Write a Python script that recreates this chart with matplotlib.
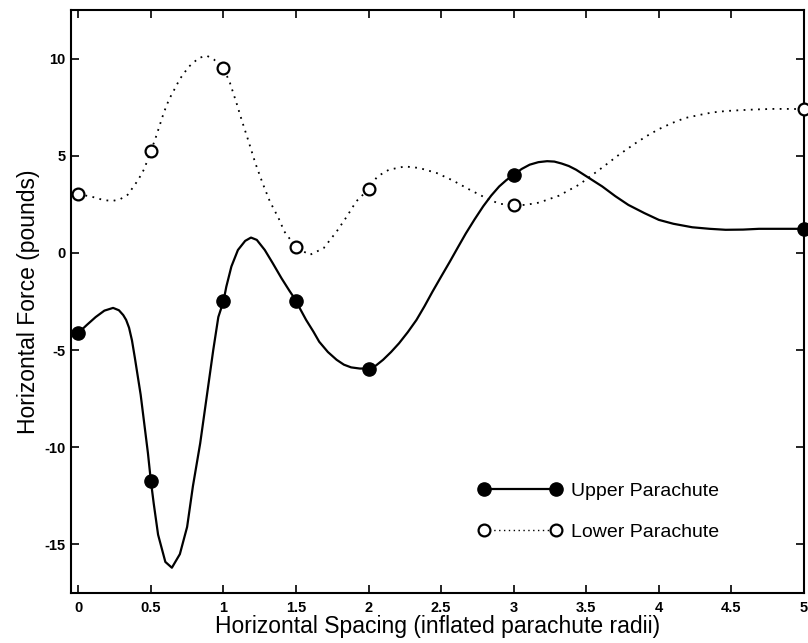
import numpy as np
import matplotlib
matplotlib.use('Agg')
import matplotlib.pyplot as plt
from matplotlib.lines import Line2D

plt.rcParams['font.family'] = ['Liberation Sans', 'DejaVu Sans']
plt.rcParams['axes.unicode_minus'] = False

# ── measured points (markers) ──
x_pts = [0, 0.5, 1, 1.5, 2, 3, 5]
upper_pts = [-4.12, -11.72, -2.50, -2.45, -5.95, 4.02, 1.24]
lower_pts = [3.02, 5.24, 9.52, 0.29, 3.28, 2.46, 7.40]

# ── fitted curves ──
upper_x = [0.00, 0.06, 0.12, 0.18, 0.24, 0.28, 0.31, 0.33, 0.35, 0.37,
           0.39, 0.43, 0.455, 0.48, 0.50, 0.52, 0.55, 0.60, 0.645, 0.70,
           0.75, 0.79, 0.84, 0.885, 0.93, 0.965, 1.00, 1.02, 1.055, 1.10,
           1.15, 1.19, 1.23, 1.285, 1.34, 1.40, 1.455, 1.50, 1.53, 1.57,
           1.62, 1.66, 1.72, 1.78, 1.83, 1.88, 1.94, 2.00, 2.05, 2.10,
           2.155, 2.21, 2.27, 2.33, 2.385, 2.44, 2.50, 2.56, 2.615, 2.67,
           2.73, 2.79, 2.845, 2.90, 2.95, 3.00, 3.055, 3.11, 3.17, 3.23,
           3.28, 3.33, 3.38, 3.43, 3.52, 3.61, 3.70, 3.79, 3.90, 4.00,
           4.10, 4.23, 4.35, 4.46, 4.58, 4.69, 4.85, 5.00]
upper_y = [-4.12, -3.70, -3.30, -2.97, -2.83, -2.95, -3.20, -3.45, -3.85, -4.50,
           -5.40, -7.30, -8.80, -10.30, -11.72, -12.90, -14.50, -15.90, -16.20, -15.50,
           -14.10, -12.00, -9.80, -7.40, -5.00, -3.30, -2.50, -1.74, -0.70, 0.15,
           0.62, 0.79, 0.67, 0.15, -0.53, -1.30, -1.95, -2.45, -2.90, -3.45,
           -4.05, -4.57, -5.10, -5.50, -5.75, -5.89, -5.95, -5.95, -5.80, -5.50,
           -5.10, -4.65, -4.08, -3.45, -2.75, -2.00, -1.22, -0.45, 0.28, 1.00,
           1.72, 2.40, 2.95, 3.42, 3.75, 4.02, 4.32, 4.54, 4.67, 4.72,
           4.70, 4.60, 4.47, 4.28, 3.85, 3.42, 2.92, 2.47, 2.05, 1.70,
           1.50, 1.32, 1.24, 1.19, 1.20, 1.24, 1.24, 1.24]

lower_x = [0.00, 0.09, 0.15, 0.20, 0.24, 0.29, 0.34, 0.37, 0.40, 0.43,
           0.455, 0.50, 0.53, 0.59, 0.625, 0.655, 0.70, 0.76, 0.83, 0.885,
           0.935, 1.00, 1.045, 1.09, 1.125, 1.17, 1.22, 1.27, 1.32, 1.38,
           1.42, 1.50, 1.595, 1.69, 1.78, 1.85, 1.915, 2.00, 2.06, 2.14,
           2.25, 2.35, 2.47, 2.58, 2.69, 2.81, 2.90, 3.00, 3.08, 3.175,
           3.31, 3.45, 3.59, 3.65, 3.725, 3.84, 3.92, 4.00, 4.09, 4.18,
           4.28, 4.37, 4.46, 4.55, 4.66, 4.78, 4.90, 5.00]
lower_y = [3.02, 2.90, 2.77, 2.70, 2.68, 2.77, 2.99, 3.30, 3.62, 3.98,
           4.33, 5.24, 5.85, 7.23, 7.89, 8.31, 8.95, 9.57, 10.03, 10.15,
           9.95, 9.52, 8.75, 7.72, 6.86, 5.82, 4.62, 3.59, 2.65, 1.79,
           1.10, 0.29, -0.10, 0.24, 1.10, 1.87, 2.65, 3.28, 3.93, 4.28,
           4.45, 4.37, 4.11, 3.73, 3.28, 2.82, 2.53, 2.46, 2.47, 2.59,
           2.94, 3.51, 4.28, 4.62, 5.05, 5.65, 6.03, 6.37, 6.68, 6.94,
           7.10, 7.23, 7.30, 7.34, 7.38, 7.41, 7.41, 7.40]

xticks = [0, 0.5, 1, 1.5, 2, 2.5, 3, 3.5, 4, 4.5, 5]
xtick_labels = ['0', '0.5', '1', '1.5', '2', '2.5', '3', '3.5', '4', '4.5', '5']
yticks = [-15, -10, -5, 0, 5, 10]

fig = plt.figure(figsize=(8.08, 6.43), dpi=100)
ax = fig.add_axes([71 / 808, 50 / 643, 733 / 808, 583 / 643])

dotted = (0, (1, 3))
ax.plot(upper_x, upper_y, '-', color='black', lw=1.6)
ax.plot(lower_x, lower_y, linestyle=dotted, color='black', lw=1.3)
ax.plot(x_pts, upper_pts, 'o', color='black', ms=9.5, clip_on=False, zorder=3)
ax.plot(x_pts, lower_pts, 'o', mfc='white', mec='black', mew=1.6, ms=8.5,
        clip_on=False, zorder=3)

ax.set_xlim(-0.05, 5.0)
ax.set_ylim(-17.5, 12.5)
ax.set_xticks(xticks)
ax.set_xticklabels(xtick_labels)
ax.set_yticks(yticks)
ax.tick_params(direction='in', length=6, width=1.2, top=True, right=True,
               labelsize=10.5)
ax.tick_params(axis='x', pad=6)
ax.tick_params(axis='y', pad=4)
for lbl in ax.get_xticklabels() + ax.get_yticklabels():
    lbl.set_fontweight('bold')
for sp in ax.spines.values():
    sp.set_linewidth(1.5)

ax.set_xlabel('Horizontal Spacing (inflated parachute radii)', fontsize=16.5,
              labelpad=0)
ax.set_ylabel('Horizontal Force (pounds)', fontsize=16.5, labelpad=3)

h_upper = Line2D([], [], color='black', lw=1.6, marker='o', ms=9.5)
h_lower = Line2D([], [], color='black', lw=1.0, linestyle=(0, (1, 2.5)),
                 marker='o', mfc='white', mec='black', mew=1.6, ms=8.5)
ax.legend([h_upper, h_lower], ['Upper Parachute', 'Lower Parachute'],
          loc='upper left', bbox_to_anchor=(0.555, 0.190), frameon=False,
          fontsize=14, numpoints=2, handlelength=4.34, handletextpad=0.47,
          labelspacing=1.21, borderpad=0, borderaxespad=0)

fig.savefig('out.png', dpi=100)
